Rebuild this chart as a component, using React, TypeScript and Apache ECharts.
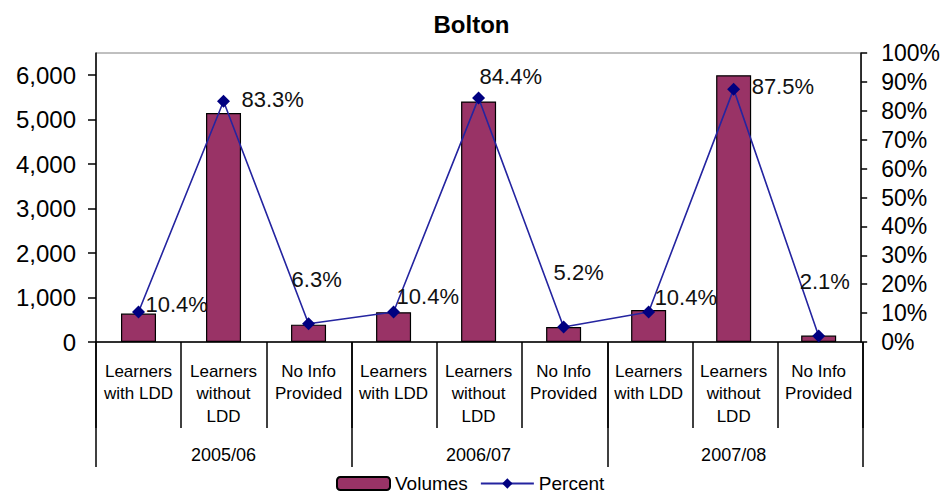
import React, { useEffect, useRef } from "react";
import * as echarts from "echarts";

const categories = [
  "Learners\nwith LDD", "Learners\nwithout\nLDD", "No Info\nProvided",
  "Learners\nwith LDD", "Learners\nwithout\nLDD", "No Info\nProvided",
  "Learners\nwith LDD", "Learners\nwithout\nLDD", "No Info\nProvided",
];
const years = ["2005/06", "2006/07", "2007/08"];
const volumes = [640, 5150, 390, 670, 5410, 335, 720, 6000, 145];
const percents = [10.4, 83.3, 6.3, 10.4, 84.4, 5.2, 10.4, 87.5, 2.1];
const leftTicks = [0, 1000, 2000, 3000, 4000, 5000, 6000];

// label placement (layout only)
const labelOffsets: [number, number][] = [
  [7, -7], [18, -2], [-17, -44],
  [3, -15], [1, -22], [-10, -54],
  [6, -14], [18, -3], [-19, -54],
];

const FONT = '"Liberation Sans", Arial, sans-serif';
const SEP = { color: "#000", width: 1.5 };

export default function App() {
  const ref = useRef<HTMLDivElement>(null);
  useEffect(() => {
    document.body.style.margin = "0";
    const chart = echarts.init(ref.current!, null, { renderer: "svg" });
    chart.setOption({
      animation: false,
      backgroundColor: "#fff",
      textStyle: { fontFamily: FONT },
      title: {
        text: "Bolton",
        left: "center",
        top: 7,
        textStyle: { fontSize: 24, fontWeight: "bold", color: "#000", fontFamily: FONT },
      },
      legend: {
        left: 331,
        top: 469,
        itemWidth: 53,
        itemHeight: 13,
        itemGap: 12,
        textStyle: { fontSize: 19, color: "#000", fontFamily: FONT },
        data: ["Volumes", "Percent"],
      },
      grid: [
        {
          left: 96,
          right: 80,
          top: 53,
          bottom: 152,
          show: true,
          borderColor: "#808080",
          borderWidth: 1,
          containLabel: false,
        },
        { left: 96, right: 80, top: 342, height: 86, containLabel: false },
        { left: 96, right: 80, top: 342, height: 125, containLabel: false },
      ],
      xAxis: [
        {
          type: "category",
          gridIndex: 0,
          data: categories,
          position: "bottom",
          axisLine: { show: true, onZero: false, lineStyle: { color: "#000", width: 1.5 } },
          axisTick: { show: false },
          splitLine: { show: false },
          axisLabel: {
            interval: 0,
            margin: 18,
            fontSize: 17,
            lineHeight: 22.5,
            color: "#000",
            verticalAlign: "top",
            fontFamily: FONT,
          },
        },
        {
          type: "category",
          gridIndex: 0,
          data: years,
          position: "bottom",
          axisLine: { show: false, onZero: false },
          axisTick: { show: false },
          splitLine: { show: false },
          axisLabel: {
            interval: 0,
            margin: 104,
            fontSize: 18,
            color: "#000",
            verticalAlign: "top",
            fontFamily: FONT,
          },
        },
        {
          type: "category",
          gridIndex: 1,
          data: categories,
          position: "top",
          axisLine: { show: false, onZero: false },
          axisTick: { show: false },
          axisLabel: { show: false },
          splitLine: { show: true, interval: 0, lineStyle: SEP },
        },
        {
          type: "category",
          gridIndex: 2,
          data: years,
          position: "top",
          axisLine: { show: false, onZero: false },
          axisTick: { show: false },
          axisLabel: { show: false },
          splitLine: { show: true, interval: 0, lineStyle: SEP },
        },
      ],
      yAxis: [
        {
          type: "value",
          gridIndex: 0,
          min: 0,
          max: 6500,
          position: "left",
          splitLine: { show: false },
          axisLine: { show: true, lineStyle: { color: "#000", width: 1.5 } },
          axisTick: { show: true, length: 8, customValues: leftTicks, lineStyle: { color: "#000", width: 1.5 } },
          axisLabel: {
            customValues: leftTicks,
            margin: 20,
            fontSize: 24,
            color: "#000",
            fontFamily: FONT,
            formatter: (v: number) => v.toLocaleString("en-US"),
          },
        },
        {
          type: "value",
          gridIndex: 0,
          min: 0,
          max: 100,
          interval: 10,
          position: "right",
          splitLine: { show: false },
          axisLine: { show: true, lineStyle: { color: "#000", width: 1.5 } },
          axisTick: { show: true, length: 6, lineStyle: { color: "#000", width: 1.5 } },
          axisLabel: {
            margin: 20,
            fontSize: 23,
            color: "#000",
            fontFamily: FONT,
            formatter: "{value}%",
          },
        },
        { type: "value", gridIndex: 1, show: false, min: 0, max: 1 },
        { type: "value", gridIndex: 2, show: false, min: 0, max: 1 },
      ],
      series: [
        {
          name: "Volumes",
          type: "bar",
          xAxisIndex: 0,
          yAxisIndex: 0,
          barWidth: 35,
          data: volumes,
          itemStyle: { color: "#993366", borderColor: "#000", borderWidth: 1.2 },
        },
        {
          name: "Percent",
          type: "line",
          xAxisIndex: 0,
          yAxisIndex: 1,
          data: percents.map((v, i) => ({
            value: v,
            label: { offset: labelOffsets[i] },
          })),
          symbol: "diamond",
          symbolSize: 13,
          lineStyle: { color: "#2424a0", width: 1.6 },
          itemStyle: { color: "#000080" },
          label: {
            show: true,
            position: "inside",
            align: "left",
            verticalAlign: "middle",
            fontSize: 22,
            color: "#111",
            fontFamily: FONT,
            formatter: (p: any) => p.value.toFixed(1) + "%",
          },
          z: 5,
        },
      ],
    });
    return () => chart.dispose();
  }, []);
  return <div ref={ref} style={{ width: 943, height: 494 }} />;
}
